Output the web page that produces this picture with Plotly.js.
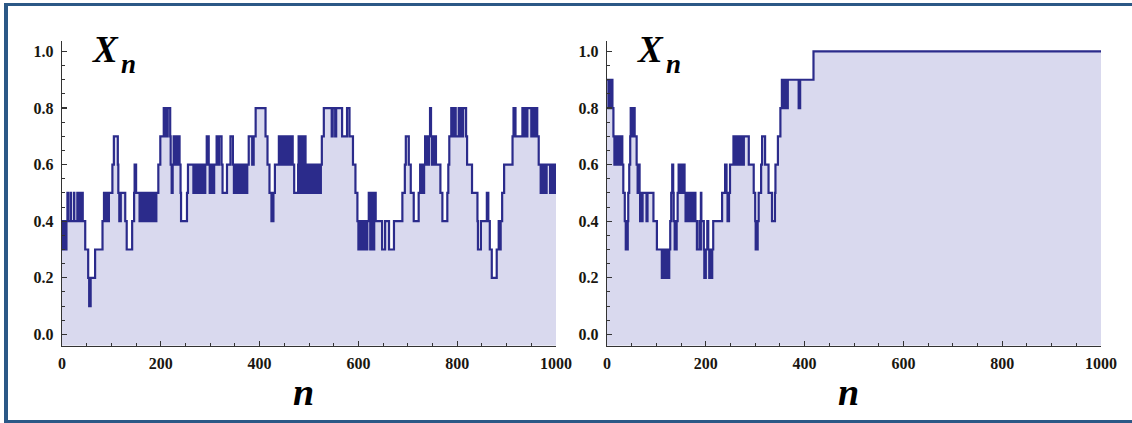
<!DOCTYPE html>
<html>
<head>
<meta charset="utf-8">
<script src="https://cdn.plot.ly/plotly-3.0.1.min.js"></script>
<style>
  html, body { margin: 0; padding: 0; background: #ffffff; overflow: hidden; }
  #wrap { position: relative; width: 1132px; height: 423px; }
  #chart { position: absolute; left: 0; top: 0; width: 1132px; height: 423px; }
  #frame { position: absolute; left: 4px; top: 3px; width: 1140px; height: 420px;
           box-sizing: border-box; border-left: 4px solid #2b5886; border-top: 3px solid #2b5886;
           border-bottom: 3px solid #2b5886; pointer-events: none; }
</style>
</head>
<body>
<div id="wrap"><div id="chart"></div><div id="frame"></div></div>
<script>
// Left panel: change points (n) and value held from that n onward
const leftN = [0,1,3,4,6,7,9,11,12,17,18,24,25,31,32,35,36,40,42,47,53,55,58,67,82,85,86,88,89,91,92,95,102,105,113,114,116,119,128,131,142,146,147,150,157,159,161,163,165,168,170,172,174,176,179,181,184,186,188,191,195,199,206,208,210,212,214,219,220,222,224,226,229,231,234,236,238,240,241,253,255,266,268,271,273,276,279,282,284,287,290,293,297,299,302,305,308,313,316,318,323,325,334,341,346,348,350,352,354,356,358,360,362,364,366,368,370,372,375,378,385,388,392,412,416,420,424,428,431,439,441,445,447,450,452,454,456,458,461,465,467,470,478,479,481,482,484,485,487,488,490,491,493,494,496,498,500,502,504,506,508,510,512,514,516,518,521,523,524,526,530,546,548,553,555,567,577,582,589,594,598,600,602,604,606,608,610,612,614,616,618,621,623,624,626,627,629,630,632,633,635,648,654,662,672,689,694,696,702,706,712,722,725,727,729,731,733,735,737,739,741,743,745,747,749,751,753,755,757,766,770,780,782,784,788,792,794,797,803,806,808,810,812,818,820,830,841,842,848,860,863,866,870,880,884,886,888,891,895,912,914,918,932,934,936,940,942,950,952,956,958,962,965,969,971,975,977,979,981,988,990,992,994,996,998,1000];
const leftX = [0.4,0.3,0.4,0.3,0.4,0.3,0.4,0.5,0.4,0.5,0.4,0.5,0.4,0.5,0.4,0.5,0.4,0.5,0.4,0.3,0.2,0.1,0.2,0.3,0.4,0.5,0.4,0.5,0.4,0.5,0.4,0.5,0.6,0.7,0.6,0.5,0.4,0.5,0.4,0.3,0.4,0.5,0.6,0.5,0.4,0.5,0.4,0.5,0.4,0.5,0.4,0.5,0.4,0.5,0.4,0.5,0.4,0.5,0.4,0.5,0.6,0.7,0.8,0.7,0.8,0.7,0.8,0.7,0.6,0.5,0.6,0.7,0.6,0.7,0.6,0.7,0.6,0.5,0.4,0.5,0.6,0.5,0.6,0.5,0.6,0.5,0.6,0.5,0.6,0.5,0.6,0.7,0.6,0.5,0.6,0.5,0.6,0.7,0.6,0.7,0.6,0.5,0.6,0.7,0.6,0.5,0.6,0.5,0.6,0.5,0.6,0.5,0.6,0.5,0.6,0.5,0.6,0.5,0.6,0.7,0.6,0.7,0.8,0.7,0.6,0.5,0.4,0.5,0.6,0.7,0.6,0.7,0.6,0.7,0.6,0.7,0.6,0.7,0.6,0.7,0.6,0.5,0.6,0.7,0.6,0.5,0.6,0.7,0.6,0.5,0.6,0.7,0.6,0.5,0.6,0.5,0.6,0.5,0.6,0.5,0.6,0.5,0.6,0.5,0.6,0.5,0.6,0.5,0.6,0.7,0.8,0.7,0.8,0.7,0.8,0.7,0.8,0.7,0.6,0.5,0.4,0.3,0.4,0.3,0.4,0.3,0.4,0.3,0.4,0.3,0.4,0.5,0.4,0.3,0.4,0.5,0.4,0.3,0.4,0.5,0.4,0.3,0.4,0.3,0.4,0.5,0.6,0.7,0.6,0.5,0.4,0.5,0.6,0.5,0.6,0.5,0.6,0.7,0.6,0.7,0.6,0.7,0.8,0.7,0.6,0.7,0.6,0.7,0.6,0.5,0.4,0.5,0.6,0.7,0.8,0.7,0.8,0.7,0.8,0.7,0.8,0.7,0.8,0.7,0.6,0.5,0.4,0.3,0.4,0.5,0.4,0.3,0.2,0.3,0.4,0.3,0.4,0.5,0.6,0.7,0.8,0.7,0.8,0.7,0.8,0.7,0.8,0.7,0.8,0.7,0.8,0.7,0.6,0.5,0.6,0.5,0.6,0.5,0.6,0.5,0.6,0.5,0.6,0.5,0.6,0.5];

// Right panel: change points (n) and value held from that n onward
const rightN = [0,3,5,7,9,11,13,15,16,19,20,23,25,27,29,31,33,36,38,42,43,45,47,48,50,52,56,60,62,64,66,67,69,71,72,74,80,82,94,101,111,113,114,116,117,119,120,122,123,126,128,130,132,134,135,137,141,143,145,147,148,150,151,153,155,157,159,161,163,165,167,169,171,173,175,177,179,182,187,189,190,191,192,196,197,200,203,205,207,209,211,213,215,233,239,242,244,247,249,256,258,260,262,264,266,268,270,272,275,277,287,297,300,301,305,307,312,314,320,327,334,340,341,346,351,354,356,358,360,362,364,366,388,391,418,1000];
const rightX = [0.9,0.8,0.9,0.8,0.9,0.8,0.7,0.6,0.7,0.6,0.7,0.6,0.7,0.6,0.7,0.6,0.5,0.4,0.3,0.4,0.5,0.6,0.7,0.8,0.7,0.8,0.7,0.6,0.5,0.6,0.5,0.4,0.5,0.4,0.5,0.5,0.4,0.5,0.4,0.3,0.2,0.3,0.2,0.3,0.2,0.3,0.2,0.3,0.2,0.3,0.4,0.5,0.6,0.5,0.4,0.3,0.4,0.5,0.6,0.5,0.6,0.5,0.6,0.5,0.6,0.5,0.4,0.5,0.4,0.5,0.4,0.5,0.4,0.5,0.4,0.5,0.4,0.3,0.4,0.3,0.5,0.4,0.4,0.3,0.2,0.3,0.4,0.3,0.2,0.3,0.2,0.3,0.4,0.5,0.6,0.5,0.4,0.5,0.6,0.7,0.6,0.7,0.6,0.7,0.6,0.7,0.6,0.7,0.6,0.7,0.6,0.5,0.4,0.3,0.4,0.5,0.6,0.7,0.6,0.5,0.4,0.5,0.6,0.7,0.8,0.9,0.8,0.9,0.8,0.9,0.8,0.9,0.8,0.9,1.0,1.0];

const xTickVals = [0,200,400,600,800,1000];
const xTickText = ["0","200","400","600","800","1000"];
const yTickVals = [0.0,0.2,0.4,0.6,0.8,1.0];
const yTickText = ["0.0","0.2","0.4","0.6","0.8","1.0"];
const yLabel = "X";
const ySub = "n";
const xLabel = "n";

const W = 1132, H = 423;
const yBottom = -0.04, yTop = 1.038;
const lineCol = '#2b2b8b';
const fillCol = '#d9d9ee';

function baseTrace(xa, ya) {
  return { x: [0, 1000], y: [yBottom, yBottom], xaxis: xa, yaxis: ya, mode: 'lines',
           line: { width: 0, color: 'rgba(0,0,0,0)' }, hoverinfo: 'skip', showlegend: false };
}
function stepTrace(xs, ys, xa, ya) {
  return { x: xs, y: ys, xaxis: xa, yaxis: ya, mode: 'lines', line: { shape: 'hv', color: lineCol, width: 2.2 },
           fill: 'tonexty', fillcolor: fillCol, showlegend: false, hoverinfo: 'skip' };
}

const serif = "'Liberation Serif', 'Times New Roman', serif";
const tickFont = { family: serif, size: 16, color: '#1a1610', weight: 'bold' };

function xAxis(dom, anchor) {
  return { domain: dom, anchor: anchor, range: [0, 1000], showline: true, linecolor: '#333', linewidth: 1.3,
           ticks: 'inside', ticklen: 5, tickwidth: 1.2, tickcolor: '#333',
           tickvals: xTickVals, ticktext: xTickText, tickfont: tickFont, ticklabelstandoff: 3,
           minor: { dtick: 50, tick0: 0, ticks: 'inside', ticklen: 3, tickwidth: 1, tickcolor: '#333', showgrid: false },
           showgrid: false, zeroline: false, fixedrange: true };
}
function yAxis(anchor) {
  return { domain: [(H - 345.7) / H, (H - 40.7) / H], anchor: anchor, range: [yBottom, yTop], showline: true,
           linecolor: '#333', linewidth: 1.3, ticks: 'inside', ticklen: 5, tickwidth: 1.2, tickcolor: '#333',
           tickvals: yTickVals, ticktext: yTickText, tickfont: tickFont, ticklabelstandoff: 4,
           minor: { dtick: 0.05, tick0: 0, ticks: 'inside', ticklen: 3, tickwidth: 1, tickcolor: '#333', showgrid: false },
           showgrid: false, zeroline: false, fixedrange: true };
}

function ann(text, px, py, size, xanchor) {
  return { text: text, xref: 'paper', yref: 'paper', x: px / W, y: 1 - py / H, xanchor: xanchor, yanchor: 'middle',
           showarrow: false, font: { family: serif, color: '#000', weight: 'bold', style: 'italic', size: size } };
}

const data = [
  baseTrace('x', 'y'), stepTrace(leftN, leftX, 'x', 'y'),
  baseTrace('x2', 'y2'), stepTrace(rightN, rightX, 'x2', 'y2')
];

const layout = {
  width: W, height: H, margin: { l: 0, r: 0, t: 0, b: 0 },
  paper_bgcolor: '#ffffff', plot_bgcolor: 'rgba(0,0,0,0)', showlegend: false,
  xaxis: xAxis([62 / W, 556 / W], 'y'),
  yaxis: yAxis('x'),
  xaxis2: xAxis([607 / W, 1101 / W], 'y2'),
  yaxis2: yAxis('x2'),
  annotations: [
    ann(yLabel, 90, 50, 37, 'left'),
    ann(ySub, 119, 64, 27, 'left'),
    ann(yLabel, 635, 50, 37, 'left'),
    ann(ySub, 664, 64, 27, 'left'),
    ann(xLabel, 303, 392, 38, 'center'),
    ann(xLabel, 848, 392, 38, 'center')
  ]
};

Plotly.newPlot('chart', data, layout, { staticPlot: true, displayModeBar: false });
</script>
</body>
</html>
